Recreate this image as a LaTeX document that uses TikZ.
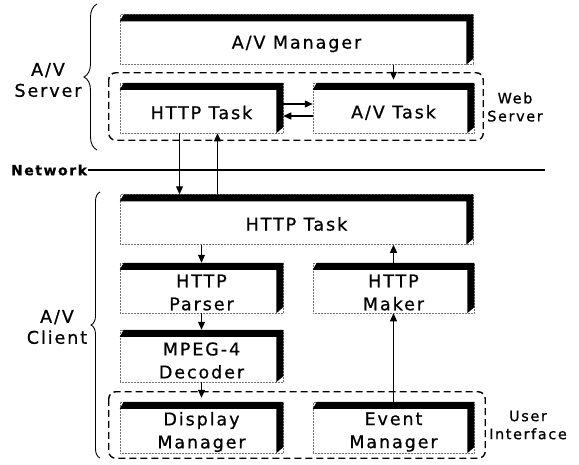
\documentclass[tikz,border=0pt]{standalone}
\usepackage{fontspec}
\setmainfont{DejaVu Sans}[LetterSpace=11, FakeBold=0.8]
\usetikzlibrary{arrows.meta,decorations.pathreplacing}

\tikzset{
  unit/.style={rectangle, draw=black!55, densely dotted, line width=0.5pt,
    minimum width=163pt, minimum height=50pt, inner sep=0pt},
  wide/.style={unit, minimum width=353pt},
  lbl/.style={align=center, yshift=-4.5pt, inner sep=0pt,
    font=\fontsize{17.5}{23}\selectfont},
  arr/.style={-{Triangle[length=8pt,width=7pt]}, line width=1.2pt},
  grp/.style={dash pattern=on 7pt off 4pt, line width=1.4pt, rounded corners=7pt},
  tag/.style={align=center, font=\fontsize{14.5}{18}\selectfont},
  side/.style={align=center, font=\fontsize{17.5}{21}\selectfont},
  brc/.style={decorate, decoration={brace, amplitude=#1}, line width=0.9pt}
}

\begin{document}
\begin{tikzpicture}[x=1pt, y=-1pt]
    \useasboundingbox (0,0) rectangle (579,464);

    % server side
    \node[wide, label={[lbl]center:A/V Manager}] (avm) at (296.5,39.5) {};
    \node[unit, label={[lbl]center:HTTP Task}] (shttp) at (201.5,108) {};
    \node[unit, minimum width=161pt, label={[lbl]center:A/V Task}] (avt) at (393.5,108) {};

    % client side
    \node[wide, label={[lbl]center:HTTP Task}] (chttp) at (296.5,219.5) {};
    \node[unit, label={[lbl]center:{HTTP\\Parser}}] (parser) at (201.5,288) {};
    \node[unit, minimum width=161pt, label={[lbl]center:{HTTP\\Maker}}] (maker) at (393.5,288) {};
    \node[unit, minimum height=52pt, label={[lbl]center:{MPEG-4\\Decoder}}] (mpeg) at (201.5,356) {};
    \node[unit, minimum height=51pt, label={[lbl]center:{Display\\Manager}}] (disp) at (201.5,427.5) {};
    \node[unit, minimum width=161pt, minimum height=51pt, label={[lbl]center:{Event\\Manager}}] (event) at (393.5,427.5) {};

    % black top/right edges
    \foreach \b in {avm,shttp,avt,chttp,parser,maker,mpeg,disp,event}
        \fill ([shift={(0,7)}]\b.north west) -- ([shift={(4,0)}]\b.north west)
            -- (\b.north east) -- ([shift={(0,-6)}]\b.south east)
            -- ([shift={(-7,0)}]\b.south east) -- ([shift={(-7,7)}]\b.north east) -- cycle;

    % groups
    \draw[grp] ([shift={(-11,-10)}]shttp.north west) rectangle ([shift={(9,7)}]avt.south east);
    \node[tag] (ws) at (515,107) {Web\\Server};
    \draw[grp] ([shift={(-11,-10)}]disp.north west) rectangle ([shift={(11,5)}]event.south east);
    \node[tag] (ui) at (528,425) {User\\Interface};

    % braces
    \draw[brc=13] (97,150) -- (97,4);
    \node[side] (srv) at (48,80) {A/V\\Server};
    \draw[brc=9] (100,458) -- (100,192);
    \node[side] (cli) at (57,327) {A/V\\Client};

    % network
    \node[font=\fontsize{14}{16}\selectfont\bfseries, inner sep=1pt] (net) at (49,170) {Network};
    \coordinate (netend) at (545,170);
    \draw[line width=1.8pt] (net) -- (netend);

    % arrows
    \draw[arr] (avt.north |- avm.south) -- ([yshift=3pt]avt.north);
    \draw[arr] ([shift={(0,-4)}]shttp.east) -- ([shift={(0,-4)}]avt.west);
    \draw[arr] ([shift={(0,8)}]avt.west) -- ([shift={(0,8)}]shttp.east);
    \draw[arr] ([shift={(-22,0)}]shttp.south) -- ([shift={(-22,0)}]shttp.south |- chttp.north);
    \draw[arr] ([shift={(16,0)}]shttp.south |- chttp.north) -- ([shift={(16,0)}]shttp.south);
    \draw[arr] (parser.north |- chttp.south) -- (parser.north);
    \draw[arr] (maker.north) -- (maker.north |- chttp.south);
    \draw[arr] (parser.south) -- (mpeg.north);
    \draw[arr] (mpeg.south) -- ([yshift=4pt]disp.north);
    \draw[arr] (event.north) -- (maker.south);
\end{tikzpicture}
\end{document}
